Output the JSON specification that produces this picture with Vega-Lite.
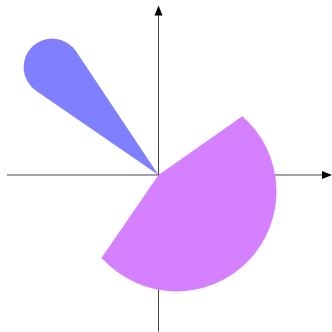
{
  "$schema": "https://vega.github.io/schema/vega-lite/v6.json",
  "width": 332,
  "height": 332,
  "padding": 0,
  "autosize": {"type": "fit", "contains": "padding"},
  "config": {"view": {"stroke": null}},
  "datasets": {
    "axes": [
      {"axis": "x", "x": -151.5, "x2": 166, "y": 0, "y2": 0},
      {"axis": "y", "x": 0, "x2": 0, "y": -157, "y2": 164}
    ],
    "arrows": [
      {"dir": "right", "x": 168.5, "y": 0},
      {"dir": "up", "x": 0, "y": 165}
    ],
    "wedges": [
      {"series": "purple", "part": "apex", "x": 0, "y": 0, "t0": 55, "t1": 214.5, "r": 101},
      {"series": "purple", "part": "bulge", "x": 18, "y": -16.5, "t0": 41, "t1": 228.5, "r": 100}
    ],
    "petal": [
      {"series": "blue", "x": 0, "y": 0, "t0": 304.5, "t1": 326.3, "r": 180}
    ]
  },
  "layer": [
    {
      "data": {"name": "axes"},
      "mark": {"type": "rule", "color": "#444", "strokeWidth": 1},
      "encoding": {
        "x": {"field": "x", "type": "quantitative", "axis": null, "scale": {"domain": [-158.5, 173.5], "nice": false, "zero": false}},
        "x2": {"field": "x2"},
        "y": {"field": "y", "type": "quantitative", "axis": null, "scale": {"domain": [-156.5, 175.5], "nice": false, "zero": false}},
        "y2": {"field": "y2"}
      }
    },
    {
      "data": {"name": "arrows"},
      "mark": {"type": "point", "filled": true, "color": "black", "size": 100, "opacity": 1, "strokeWidth": 0},
      "encoding": {
        "x": {"field": "x", "type": "quantitative", "axis": null, "scale": {"domain": [-158.5, 173.5], "nice": false, "zero": false}},
        "y": {"field": "y", "type": "quantitative", "axis": null, "scale": {"domain": [-156.5, 175.5], "nice": false, "zero": false}},
        "shape": {"field": "dir", "type": "nominal", "legend": null, "scale": {"domain": ["right", "up"], "range": ["M1,0L-1,-0.8L-1,0.8Z", "M0,-1L-0.8,1L0.8,1Z"]}}
      }
    },
    {
      "data": {"name": "wedges"},
      "mark": {"type": "arc"},
      "encoding": {
        "x": {"field": "x", "type": "quantitative", "axis": null, "scale": {"domain": [-158.5, 173.5], "nice": false, "zero": false}},
        "y": {"field": "y", "type": "quantitative", "axis": null, "scale": {"domain": [-156.5, 175.5], "nice": false, "zero": false}},
        "theta": {"field": "t0", "type": "quantitative", "scale": {"domain": [0, 360], "range": [0, 6.283185307179586], "nice": false, "zero": true}},
        "theta2": {"field": "t1"},
        "radius": {"field": "r", "type": "quantitative", "scale": {"type": "linear", "domain": [0, 200], "range": [0, 200], "nice": false, "zero": true}},
        "color": {"field": "series", "type": "nominal", "legend": null, "scale": {"domain": ["blue", "purple"], "range": ["#8080ff", "#d580ff"]}}
      }
    },
    {
      "data": {"name": "petal"},
      "mark": {"type": "arc", "cornerRadius": 90},
      "encoding": {
        "x": {"field": "x", "type": "quantitative", "axis": null, "scale": {"domain": [-158.5, 173.5], "nice": false, "zero": false}},
        "y": {"field": "y", "type": "quantitative", "axis": null, "scale": {"domain": [-156.5, 175.5], "nice": false, "zero": false}},
        "theta": {"field": "t0", "type": "quantitative", "scale": {"domain": [0, 360], "range": [0, 6.283185307179586], "nice": false, "zero": true}},
        "theta2": {"field": "t1"},
        "radius": {"field": "r", "type": "quantitative", "scale": {"type": "linear", "domain": [0, 200], "range": [0, 200], "nice": false, "zero": true}},
        "color": {"field": "series", "type": "nominal", "legend": null, "scale": {"domain": ["blue", "purple"], "range": ["#8080ff", "#d580ff"]}}
      }
    }
  ]
}
